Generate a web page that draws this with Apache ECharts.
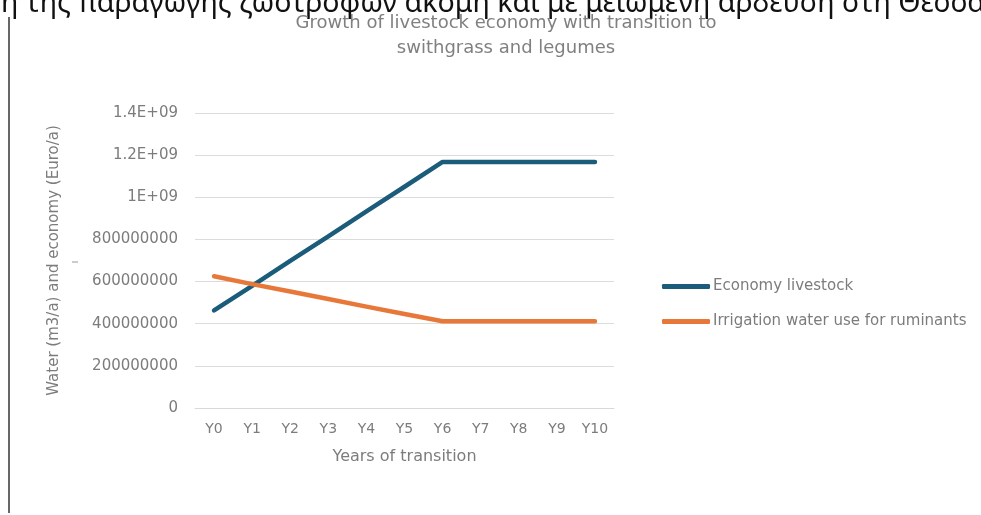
<!DOCTYPE html>
<html>
<head>
<meta charset="utf-8">
<script src="https://cdn.jsdelivr.net/npm/echarts/dist/echarts.min.js"></script>
<style>
  html, body { margin: 0; padding: 0; background: #fff; }
  #chart { width: 981px; height: 515px; }
</style>
</head>
<body>
<div id="chart"></div>
<script>
// data
const years = ['Y0', 'Y1', 'Y2', 'Y3', 'Y4', 'Y5', 'Y6', 'Y7', 'Y8', 'Y9', 'Y10'];
const economyLivestock = [463e6, 580e6, 698e6, 815e6, 933e6, 1050e6, 1168e6, 1168e6, 1168e6, 1168e6, 1168e6];
const irrigationWater = [625e6, 588e6, 553e6, 517e6, 481e6, 446e6, 412e6, 412e6, 412e6, 412e6, 412e6];
const yTickLabels = ['0', '200000000', '400000000', '600000000', '800000000', '1E+09', '1.2E+09', '1.4E+09'];

const greekLine = 'η της παραγωγής ζωοτροφών ακόμη και με μειωμένη άρδευση στη Θεσσαλία';

let myChart = echarts.init(document.getElementById('chart'));
const gray = '#7c7c7c';
const font = 'DejaVu Sans';

myChart.setOption({
  animation: false,
  backgroundColor: '#fff',
  textStyle: { fontFamily: font },
  title: {
    text: 'Growth of livestock economy with transition to\nswithgrass and legumes',
    left: 501,
    textAlign: 'center',
    top: 6,
    textStyle: { fontSize: 18, fontWeight: 'normal', color: '#808080', lineHeight: 25, fontFamily: font }
  },
  legend: {
    orient: 'vertical',
    left: 657,
    top: 274,
    icon: 'roundRect',
    itemWidth: 48,
    itemHeight: 5,
    itemGap: 20,
    textStyle: { color: gray, fontSize: 15, fontFamily: font, padding: [0, 0, 0, -2] },
    data: ['Economy livestock', 'Irrigation water use for ruminants']
  },
  grid: { left: 195, right: 367, top: 113, bottom: 107 },
  xAxis: {
    type: 'category',
    data: years,
    boundaryGap: true,
    name: 'Years of transition',
    nameLocation: 'middle',
    nameGap: 41,
    nameTextStyle: { color: gray, fontSize: 16 },
    axisLine: { lineStyle: { color: '#d9d9d9' } },
    axisTick: { show: false },
    axisLabel: { color: gray, fontSize: 14, margin: 14 }
  },
  yAxis: {
    type: 'value',
    min: 0,
    max: 1.4e9,
    interval: 2e8,
    name: 'Water (m3/a) and economy (Euro/a)',
    nameLocation: 'middle',
    nameGap: 133,
    nameTextStyle: { color: gray, fontSize: 15 },
    axisLine: { show: false },
    axisTick: { show: false },
    axisLabel: {
      color: gray,
      fontSize: 15,
      margin: 17,
      formatter: function (v) { return yTickLabels[Math.round(v / 2e8)]; }
    },
    splitLine: { lineStyle: { color: '#dcdcdc', width: 1 } }
  },
  series: [
    {
      name: 'Economy livestock',
      type: 'line',
      data: economyLivestock,
      symbol: 'none',
      color: '#1c5c7b',
      lineStyle: { width: 4.5, cap: 'round', join: 'round' }
    },
    {
      name: 'Irrigation water use for ruminants',
      type: 'line',
      data: irrigationWater,
      symbol: 'none',
      color: '#e8783a',
      lineStyle: { width: 4.5, cap: 'round', join: 'round' }
    }
  ],
  graphic: [
    // clipped caption of the surrounding document
    {
      type: 'text',
      left: 1,
      top: -11,
      style: { text: greekLine, font: '28.5px "Noto Sans"', fill: '#111' }
    },
    // page border on the left
    {
      type: 'line',
      shape: { x1: 9, y1: 17, x2: 9, y2: 513 },
      style: { stroke: '#666', lineWidth: 2 }
    },
    // small stray mark next to the axis name
    {
      type: 'line',
      shape: { x1: 72, y1: 262, x2: 78, y2: 262 },
      style: { stroke: '#999', lineWidth: 1 }
    }
  ]
});
</script>
</body>
</html>
